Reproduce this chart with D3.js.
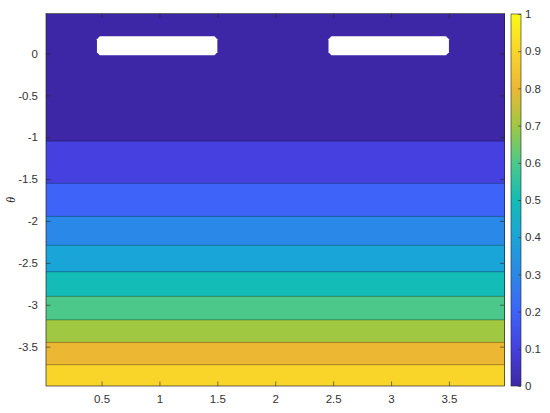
<!DOCTYPE html>
<html>
<head>
<meta charset="utf-8">
<script src="https://cdn.jsdelivr.net/npm/d3@7"></script>
<style>
  body { margin: 0; background: #fff; }
  svg { display: block; font-family: "Liberation Sans", Arial, sans-serif; }
</style>
</head>
<body>
<svg width="550" height="413"></svg>
<script>
// contour levels and the theta where each inner level is crossed
let levels = [0, 0.1, 0.2, 0.3, 0.4, 0.5, 0.6, 0.7, 0.8, 0.9, 1]
let crossings = [-1.047, -1.551, -1.945, -2.29, -2.606, -2.90, -3.18, -3.45, -3.716]
// fill colour of each band (colormap at the band's lower level)
let bandColors = ['#3d27a6', '#4540df', '#3d63f8', '#2a88e8', '#1aa5d8',
                  '#13bcb6', '#4cc98a', '#a0c841', '#ecb834', '#f9d52a']
let topColor = '#f9fb15'
// blank (NaN) regions: x range and theta range
let holes = [
  { x0: 0.46, x1: 1.50, y0: -0.02, y1: 0.206 },
  { x0: 2.46, x1: 3.50, y0: -0.02, y1: 0.206 }
]
let xTicks = [0.5, 1, 1.5, 2, 2.5, 3, 3.5]
let yTicks = [0, -0.5, -1, -1.5, -2, -2.5, -3, -3.5]
let cTicks = [0, 0.1, 0.2, 0.3, 0.4, 0.5, 0.6, 0.7, 0.8, 0.9, 1]

let svg = d3.select('svg')
let pLeft = 46, pRight = 504.5, pTop = 13.5, pBottom = 386

let x = d3.scaleLinear().domain([0.02, 3.98]).range([pLeft, pRight])
let y = d3.scaleLinear().domain([-3.97, 0.477]).range([pBottom, pTop])

// bands
let edges = [y.domain()[1]].concat(crossings, [y.domain()[0]])
let g = svg.append('g')
g.selectAll('rect.band')
  .data(bandColors)
  .enter().append('rect')
  .attr('class', 'band')
  .attr('x', x(x.domain()[0]))
  .attr('width', x(x.domain()[1]) - x(x.domain()[0]))
  .attr('y', (d, i) => y(edges[i]))
  .attr('height', (d, i) => y(edges[i + 1]) - y(edges[i]))
  .attr('fill', d => d)
  .attr('shape-rendering', 'crispEdges')

// contour lines
g.selectAll('line.contour')
  .data(crossings)
  .enter().append('line')
  .attr('x1', x(x.domain()[0]))
  .attr('x2', x(x.domain()[1]))
  .attr('y1', d => y(d))
  .attr('y2', d => y(d))
  .attr('stroke', '#000')
  .attr('stroke-opacity', 0.45)
  .attr('stroke-width', 0.7)

// blank regions, chamfered corners
let cx = 0.025, cy = 0.035
g.selectAll('path.hole')
  .data(holes)
  .enter().append('path')
  .attr('fill', '#fff')
  .attr('d', h => {
    let pts = [
      [h.x0 + cx, h.y1], [h.x1 - cx, h.y1], [h.x1, h.y1 - cy], [h.x1, h.y0 + cy],
      [h.x1 - cx, h.y0], [h.x0 + cx, h.y0], [h.x0, h.y0 + cy], [h.x0, h.y1 - cy]
    ]
    return 'M' + pts.map(p => x(p[0]) + ',' + y(p[1])).join('L') + 'Z'
  })

// axes
let axisColor = '#262626'
let tickLen = 4.5
let fmt = d => String(d)
function styleAxis(sel) {
  sel.select('.domain').remove()
  sel.selectAll('line').attr('stroke', axisColor).attr('stroke-width', 0.6)
  sel.selectAll('text').attr('fill', '#333').style('font-size', '11.5px')
}
svg.append('g')
  .attr('transform', `translate(0,${pBottom})`)
  .call(d3.axisBottom(x).tickValues(xTicks).tickSize(-tickLen).tickPadding(9).tickFormat(fmt))
  .call(styleAxis)
svg.append('g')
  .attr('transform', `translate(0,${pTop})`)
  .call(d3.axisTop(x).tickValues(xTicks).tickSize(-tickLen).tickFormat(''))
  .call(styleAxis)
svg.append('g')
  .attr('transform', `translate(${pLeft},0)`)
  .call(d3.axisLeft(y).tickValues(yTicks).tickSize(-tickLen).tickPadding(8).tickFormat(fmt))
  .call(styleAxis)
svg.append('g')
  .attr('transform', `translate(${pRight},0)`)
  .call(d3.axisRight(y).tickValues(yTicks).tickSize(-tickLen).tickFormat(''))
  .call(styleAxis)

svg.append('rect')
  .attr('x', pLeft).attr('y', pTop)
  .attr('width', pRight - pLeft).attr('height', pBottom - pTop)
  .attr('fill', 'none').attr('stroke', axisColor).attr('stroke-width', 0.7)

svg.append('text')
  .attr('transform', `translate(15,${(pTop + pBottom) / 2}) rotate(-90)`)
  .attr('text-anchor', 'middle')
  .attr('fill', axisColor)
  .style('font-size', '12px')
  .style('font-style', 'italic')
  .style('font-family', '"Liberation Serif", serif')
  .text('θ')

// colorbar
let cbX = 511, cbW = 10
let c = d3.scaleLinear().domain([0, 1]).range([pBottom, 14])
let grad = svg.append('defs').append('linearGradient')
  .attr('id', 'parula').attr('x1', 0).attr('y1', 1).attr('x2', 0).attr('y2', 0)
let stops = bandColors.concat([topColor])
grad.selectAll('stop')
  .data(stops)
  .enter().append('stop')
  .attr('offset', (d, i) => levels[i])
  .attr('stop-color', d => d)

svg.append('rect')
  .attr('x', cbX).attr('y', c(1))
  .attr('width', cbW).attr('height', c(0) - c(1))
  .attr('fill', 'url(#parula)')
  .attr('stroke', axisColor).attr('stroke-width', 0.6)

svg.append('g')
  .attr('transform', `translate(${cbX + cbW},0)`)
  .call(d3.axisRight(c).tickValues(cTicks).tickSize(-3).tickPadding(4).tickFormat(fmt))
  .call(styleAxis)
</script>
</body>
</html>
